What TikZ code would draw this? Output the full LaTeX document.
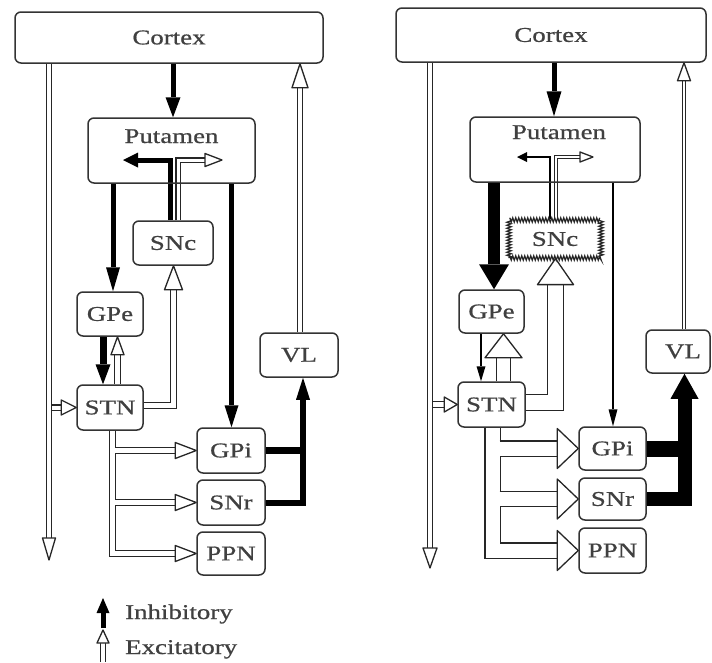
\documentclass[tikz,border=0pt]{standalone}
\usepackage{fontspec}
\setmainfont{Liberation Serif}[FakeStretch=1.28,FakeBold=0.7]
\usetikzlibrary{arrows.meta,calc,decorations.pathmorphing}
\pgfdeclarelayer{bg}
\pgfsetlayers{bg,main}
\newcommand{\dfont}{\fontsize{21}{25}\selectfont}
\newcommand{\ohd}[4]{\draw[ohead,shift={(#1)},rotate=#2] (0,0) -- (-#4,#3/2) -- (-#4,-#3/2) -- cycle;}
\tikzset{
  box/.style={draw=black!80, line width=1.5pt, rounded corners=6pt, inner sep=0pt, text=black!75, font=\dfont},
  snc/.style={draw=black!85, line width=1.2pt, decorate, decoration={zigzag,segment length=3pt,amplitude=2.2pt}, inner sep=0pt, text=black!75, font=\dfont},
  txt/.style={font=\dfont, text=black!75, inner sep=0pt},
  legtext/.style={font=\dfont, text=black!75, anchor=base west, inner sep=0pt},
  inh/.style n args={3}{draw=black, line width=#1, line join=miter, -{Triangle[length=#2,width=#3,line width=0pt]}},
  exc/.style={draw=black!85, double=white, double distance=#1, line width=1.3pt, line join=miter},
  ohead/.style={draw=black!85, fill=white, line width=1.3pt, line join=round}
}
\begin{document}
\begin{tikzpicture}[x=1pt,y=-1pt]
\useasboundingbox (0,0) rectangle (712,662);
% ---------------- LEFT PANEL nodes
\node[box, minimum width=308pt, minimum height=51pt] (cortexL) at (169,37.5) {Cortex};
\node[box, minimum width=167pt, minimum height=65pt] (putL) at (171.5,150.5) {};
\node[txt, anchor=base] (putLt) at (171.5,143) {Putamen};
\node[box, minimum width=80pt, minimum height=44pt] (SNcL) at (173,243) {SNc};
\node[box, minimum width=66pt, minimum height=44pt] (GPeL) at (110,314) {GPe};
\node[box, minimum width=66pt, minimum height=45pt] (STNL) at (110,407.5) {STN};
\node[box, minimum width=78pt, minimum height=44pt] (VLL) at (299,355) {VL};
\node[box, minimum width=68pt, minimum height=45pt] (GPiL) at (231,450.5) {GPi};
\node[box, minimum width=68pt, minimum height=45pt] (SNrL) at (231,502.5) {SNr};
\node[box, minimum width=68pt, minimum height=43pt] (PPNL) at (231,553.5) {PPN};
% ---------------- RIGHT PANEL nodes
\node[box, minimum width=310pt, minimum height=54pt] (cortexR) at (551,35) {Cortex};
\node[box, minimum width=170pt, minimum height=65pt] (putR) at (555,149.5) {};
\node[txt, anchor=base] (putRt) at (559,139) {Putamen};
\node[snc, minimum width=92pt, minimum height=38pt] (SNcR) at (555,239) {SNc};
\node[box, minimum width=65pt, minimum height=43pt] (GPeR) at (491.5,311.5) {GPe};
\node[box, minimum width=67pt, minimum height=45pt] (STNR) at (491.5,404.5) {STN};
\node[box, minimum width=64pt, minimum height=43pt] (VLR) at (678,351.5) {\hspace*{10pt}VL};
\node[box, minimum width=67pt, minimum height=43pt] (GPiR) at (612.5,448.5) {GPi};
\node[box, minimum width=67pt, minimum height=42pt] (SNrR) at (612.5,499) {SNr};
\node[box, minimum width=67pt, minimum height=45pt] (PPNR) at (612.5,550.5) {PPN};
% legend texts
\node[legtext] (legI) at (125,619) {Inhibitory};
\node[legtext] (legE) at (125,654) {Excitatory};
% ---------------- coordinates
\coordinate (Lc) at (173,0);
\coordinate (L1) at (113,0);
\coordinate (L2) at (231.5,0);
\coordinate (L3) at (170,0);
\coordinate (L4) at (178,0);
\coordinate (L5) at (103,0);
\coordinate (L6) at (117.5,0);
\coordinate (L7) at (173.5,0);
\coordinate (L8) at (112.5,0);
\coordinate (L9) at (303,0);
\coordinate (L10) at (300,0);
\coordinate (L11) at (49,0);
\coordinate (Ly1) at (0,160);
\coordinate (Ly2) at (0,405.5);
\coordinate (LinhTip) at (123,160);
\coordinate (LexcTip) at (222,160);
\coordinate (LlongTip) at (49,560);
\coordinate (Rc) at (554,0);
\coordinate (R1) at (494,0);
\coordinate (R2) at (613,0);
\coordinate (R3) at (550,0);
\coordinate (R4) at (556,0);
\coordinate (R5) at (481,0);
\coordinate (R6) at (503.5,0);
\coordinate (R7) at (555.5,0);
\coordinate (R8) at (492.5,0);
\coordinate (R9) at (684.5,0);
\coordinate (R10) at (684,0);
\coordinate (R11) at (430,0);
\coordinate (Ry1) at (0,157);
\coordinate (Ry2) at (0,402.5);
\coordinate (RinhTip) at (517,157);
\coordinate (RexcTip) at (593,157);
\coordinate (RlongTip) at (430,568);
\coordinate (legI1) at (103,628);
\coordinate (legI2) at (103,598);
\coordinate (legE1) at (103,662);
\coordinate (legE2) at (103,630);
\begin{pgfonlayer}{bg}
\fill[white] (0,0) rectangle (712,662);
% ================= LEFT connectors
\draw[inh={5pt}{20pt}{15pt}] (cortexL.south -| Lc) -- (putL.north -| Lc);
\draw[inh={5pt}{24pt}{14pt}] (putL.south -| L1) -- (GPeL.north -| L1);
\draw[inh={5pt}{22pt}{14pt}] (putL.south -| L2) -- (GPiL.north -| L2);
\draw[inh={5pt}{15pt}{15pt}] (SNcL.north -| L3) -- (L3 |- Ly1) -- (LinhTip);
\draw[exc=3pt] (SNcL.north -| L4) -- (L4 |- Ly1) -- ($(LexcTip)+(-16,0)$);
\ohd{LexcTip}{0}{13}{17}
\draw[inh={7pt}{20pt}{15pt}] (GPeL.south -| L5) -- (STNL.north -| L5);
\draw[exc=4.5pt] (STNL.north -| L6) -- ($(GPeL.south -| L6)+(0,17)$);
\ohd{GPeL.south -| L6}{90}{13}{18}
\draw[exc=5pt] (STNL.east |- Ly2) -- (L7 |- Ly2) -- ($(SNcL.south -| L7)+(0,23)$);
\ohd{SNcL.south -| L7}{90}{18}{24}
\draw[exc=5pt] (STNL.south -| L8) -- (L8 |- PPNL.west) -- ($(PPNL.west)+(-20,0)$);
\draw[exc=5pt] ($(L8 |- GPiL.west)+(2.5,0)$) -- ($(GPiL.west)+(-20,0)$);
\draw[exc=5pt] ($(L8 |- SNrL.west)+(2.5,0)$) -- ($(SNrL.west)+(-20,0)$);
\ohd{GPiL.west}{0}{16}{21}
\ohd{SNrL.west}{0}{16}{21}
\ohd{PPNL.west}{0}{16}{21}
\draw[line width=6pt, line join=miter, -{Triangle[length=22pt,width=14pt,line width=0pt]}] (SNrL.east) -- (SNrL.east -| L9) -- (VLL.south -| L9);
\draw[line width=7pt] (GPiL.east) -- ($(GPiL.east -| L9)+(3,0)$);
\draw[exc=4pt] (VLL.north -| L10) -- ($(cortexL.south -| L10)+(0,23)$);
\ohd{cortexL.south -| L10}{90}{16}{24}
\draw[exc=4pt] (cortexL.south -| L11) -- ($(LlongTip)+(0,-21)$);
\ohd{LlongTip}{-90}{13}{22}
\draw[exc=4pt] ($(STNL.west -| L11)+(3.2,0)$) -- ($(STNL.west)+(-13,0)$);
\ohd{STNL.west}{0}{15}{15}
% legend glyphs
\draw[inh={5pt}{15pt}{13pt}] (legI1) -- (legI2);
\draw[exc=3.5pt] (legE1) -- ($(legE2)+(0,12)$);
\ohd{legE2}{90}{12}{13}
% ================= RIGHT connectors
\draw[inh={5pt}{25pt}{15pt}] (cortexR.south -| Rc) -- (putR.north -| Rc);
\draw[inh={12pt}{25pt}{30pt}] (putR.south -| R1) -- (GPeR.north -| R1);
\draw[inh={1.5pt}{17pt}{9pt}] (putR.south -| R2) -- (GPiR.north -| R2);
\draw[inh={1.5pt}{10pt}{10pt}] (SNcR.north -| R3) -- (R3 |- Ry1) -- (RinhTip);
\draw[exc=2pt, line width=0.9pt] (SNcR.north -| R4) -- (R4 |- Ry1) -- ($(RexcTip)+(-12,0)$);
\ohd{RexcTip}{0}{10}{13}
\draw[inh={1.5pt}{15pt}{9pt}] (GPeR.south -| R5) -- (STNR.north -| R5);
\draw[exc=13pt] (STNR.north -| R6) -- ($(GPeR.south -| R6)+(0,23)$);
\ohd{GPeR.south -| R6}{90}{37}{24}
\draw[exc=15pt] (STNR.east |- Ry2) -- (R7 |- Ry2) -- ($(SNcR.south -| R7)+(0,25)$);
\ohd{SNcR.south -| R7}{90}{36}{26}
\draw[exc=14pt] (STNR.south -| R8) -- (R8 |- PPNR.west) -- ($(PPNR.west)+(-20,0)$);
\draw[exc=14pt] ($(R8 |- GPiR.west)+(7,0)$) -- ($(GPiR.west)+(-20,0)$);
\draw[exc=14pt] ($(R8 |- SNrR.west)+(7,0)$) -- ($(SNrR.west)+(-20,0)$);
\ohd{GPiR.west}{0}{40}{21}
\ohd{SNrR.west}{0}{40}{21}
\ohd{PPNR.west}{0}{40}{21}
\draw[line width=14pt, line join=miter, -{Triangle[length=25pt,width=28pt,line width=0pt]}] (SNrR.east) -- (SNrR.east -| R9) -- (VLR.south -| R9);
\draw[line width=16pt] (GPiR.east) -- ($(GPiR.east -| R9)+(6,0)$);
\draw[draw=black!85, double=white, double distance=1.6pt, line width=0.8pt] (VLR.north -| R10) -- ($(cortexR.south -| R10)+(0,17)$);
\ohd{cortexR.south -| R10}{90}{13}{18}
\draw[exc=4pt] (cortexR.south -| R11) -- ($(RlongTip)+(0,-19)$);
\ohd{RlongTip}{-90}{14}{20}
\draw[exc=4.5pt] ($(STNR.west -| R11)+(3.2,0)$) -- ($(STNR.west)+(-12,0)$);
\ohd{STNR.west}{0}{15}{13}
\end{pgfonlayer}
\end{tikzpicture}
\end{document}
